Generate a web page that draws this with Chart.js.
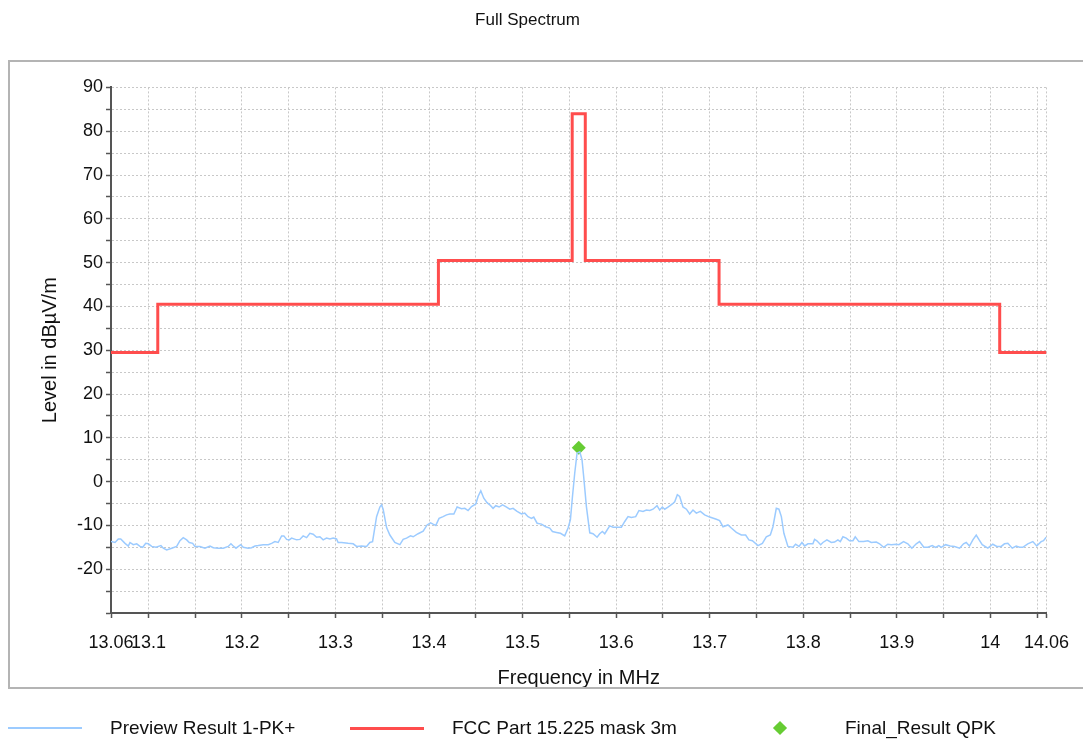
<!DOCTYPE html>
<html>
<head>
<meta charset="utf-8">
<title>Full Spectrum</title>
<script src="https://cdn.jsdelivr.net/npm/chart.js@4.4.1/dist/chart.umd.min.js"></script>
<style>
  body { margin: 0; background: #fff; }
  #wrap { position: relative; width: 1083px; height: 743px; overflow: hidden; }
  #myChart { position: absolute; left: 0; top: 0; }
  #legend { position: absolute; left: 0; top: 716px; width: 1083px; height: 24px;
            font: 19px "Liberation Sans", Arial, sans-serif; color: #111; }
  .item { position: absolute; top: 0; height: 24px; display: flex; align-items: center; white-space: nowrap; }
  .mark { width: 74px; height: 24px; display: flex; justify-content: center; align-items: center; margin-right: 28px; }
  .line { width: 74px; }
  .diamond { width: 10px; height: 10px; transform: rotate(45deg); }
</style>
</head>
<body>
<div id="wrap">
  <canvas id="myChart" width="1083" height="743"></canvas>
  <div id="legend"></div>
</div>
<script>
// Preview Result 1-PK+ trace (MHz / dBµV/m)
const pkFreq = [
  13.0600, 13.0643, 13.0678, 13.0704, 13.0750, 13.0785, 13.0803, 13.0838, 13.0875, 13.0910,
  13.0939, 13.0971, 13.0999, 13.1035, 13.1081, 13.1134, 13.1159, 13.1195, 13.1249, 13.1302,
  13.1337, 13.1372, 13.1409, 13.1437, 13.1473, 13.1497, 13.1551, 13.1604, 13.1658, 13.1693,
  13.1746, 13.1800, 13.1853, 13.1882, 13.1907, 13.1936, 13.1986, 13.2014, 13.2067, 13.2103,
  13.2139, 13.2174, 13.2227, 13.2281, 13.2317, 13.2352, 13.2387, 13.2424, 13.2448, 13.2477,
  13.2505, 13.2531, 13.2584, 13.2619, 13.2654, 13.2691, 13.2726, 13.2761, 13.2798, 13.2833,
  13.2868, 13.2904, 13.2940, 13.2975, 13.3011, 13.3028, 13.3065, 13.3135, 13.3189, 13.3225,
  13.3278, 13.3332, 13.3367, 13.3396, 13.3439, 13.3474, 13.3492, 13.3509, 13.3546, 13.3581,
  13.3634, 13.3688, 13.3723, 13.3759, 13.3802, 13.3830, 13.3883, 13.3937, 13.3979, 13.4016,
  13.4043, 13.4072, 13.4107, 13.4150, 13.4187, 13.4222, 13.4265, 13.4300, 13.4347, 13.4382,
  13.4417, 13.4454, 13.4500, 13.4524, 13.4553, 13.4585, 13.4620, 13.4649, 13.4684, 13.4713,
  13.4749, 13.4785, 13.4820, 13.4863, 13.4898, 13.4941, 13.4988, 13.5023, 13.5058, 13.5095,
  13.5119, 13.5155, 13.5202, 13.5247, 13.5290, 13.5319, 13.5362, 13.5405, 13.5450, 13.5486,
  13.5511, 13.5533, 13.5557, 13.5582, 13.5611, 13.5635, 13.5653, 13.5682, 13.5718, 13.5753,
  13.5796, 13.5824, 13.5853, 13.5878, 13.5931, 13.5967, 13.6009, 13.6056, 13.6092, 13.6127,
  13.6163, 13.6209, 13.6244, 13.6287, 13.6323, 13.6359, 13.6394, 13.6437, 13.6465, 13.6494,
  13.6519, 13.6554, 13.6601, 13.6626, 13.6654, 13.6679, 13.6714, 13.6751, 13.6786, 13.6821,
  13.6857, 13.6900, 13.6946, 13.7000, 13.7071, 13.7106, 13.7142, 13.7195, 13.7231, 13.7285,
  13.7338, 13.7384, 13.7419, 13.7456, 13.7516, 13.7563, 13.7605, 13.7648, 13.7676, 13.7712,
  13.7740, 13.7766, 13.7793, 13.7836, 13.7890, 13.7918, 13.7954, 13.7986, 13.8015, 13.8050,
  13.8103, 13.8121, 13.8146, 13.8186, 13.8210, 13.8253, 13.8300, 13.8335, 13.8370, 13.8396,
  13.8424, 13.8460, 13.8495, 13.8531, 13.8556, 13.8595, 13.8645, 13.8691, 13.8727, 13.8781,
  13.8816, 13.8859, 13.8904, 13.8941, 13.8994, 13.9022, 13.9072, 13.9118, 13.9161, 13.9208,
  13.9243, 13.9289, 13.9332, 13.9379, 13.9414, 13.9449, 13.9475, 13.9521, 13.9571, 13.9617,
  13.9671, 13.9713, 13.9742, 13.9777, 13.9813, 13.9849, 13.9877, 13.9913, 13.9973, 14.0026,
  14.0069, 14.0116, 14.0151, 14.0187, 14.0234, 14.0276, 14.0312, 14.0347, 14.0400, 14.0454,
  14.0496, 14.0543, 14.0568, 14.0597
];
const pkLevel = [
  -13.7, -13.9, -13.1, -13.1, -14.1, -14.7, -13.9, -14.4, -14.2, -14.8,
  -15.0, -14.1, -14.2, -14.8, -15.0, -14.6, -15.2, -15.6, -15.2, -14.8,
  -13.5, -12.8, -13.3, -13.9, -14.1, -14.8, -14.8, -15.2, -14.7, -15.1,
  -15.2, -15.2, -14.8, -14.2, -14.7, -15.2, -14.4, -15.0, -15.2, -15.1,
  -14.7, -14.6, -14.4, -14.4, -14.1, -13.7, -13.9, -12.4, -12.4, -13.2,
  -13.3, -12.9, -13.3, -13.2, -12.4, -12.8, -11.8, -12.0, -12.7, -12.6,
  -13.3, -12.9, -13.1, -12.9, -13.1, -13.9, -13.9, -14.1, -14.2, -14.8,
  -14.7, -14.8, -13.9, -13.7, -8.0, -5.8, -5.3, -6.3, -10.5, -12.2,
  -13.9, -14.4, -13.2, -12.9, -12.4, -12.6, -11.9, -11.3, -9.9, -9.4,
  -9.7, -10.0, -8.4, -8.0, -7.6, -7.4, -7.4, -5.8, -6.2, -6.1,
  -6.6, -5.7, -5.1, -3.4, -2.1, -3.8, -4.8, -5.3, -6.1, -5.5,
  -5.8, -5.3, -5.7, -6.3, -6.1, -6.8, -7.4, -7.2, -8.0, -8.4,
  -8.1, -9.5, -9.7, -10.3, -10.6, -11.4, -11.6, -11.8, -12.4, -10.6,
  -8.7, -3.4, 1.9, 6.5, 6.8, 5.0, 1.1, -5.7, -11.7, -11.9,
  -12.7, -11.9, -11.4, -11.9, -10.1, -10.4, -10.4, -10.4, -9.1, -8.0,
  -8.2, -8.0, -6.6, -6.8, -6.5, -6.6, -6.3, -5.5, -6.5, -5.8,
  -6.3, -5.8, -5.1, -4.6, -3.0, -3.4, -5.8, -6.3, -7.4, -6.5,
  -7.2, -6.8, -7.6, -8.1, -8.6, -8.9, -10.3, -9.9, -10.6, -11.6,
  -12.2, -12.2, -13.3, -13.5, -14.6, -14.1, -12.6, -12.2, -10.3, -6.1,
  -6.3, -8.0, -11.8, -14.8, -15.0, -14.3, -14.8, -13.9, -14.7, -14.2,
  -14.2, -13.2, -13.5, -14.4, -13.9, -13.3, -13.9, -13.8, -13.3, -13.7,
  -12.6, -12.9, -13.5, -13.5, -12.6, -13.7, -13.7, -13.5, -13.9, -13.8,
  -14.2, -15.0, -14.3, -14.4, -14.3, -14.4, -13.7, -14.2, -15.2, -14.2,
  -13.7, -15.0, -15.0, -14.6, -15.0, -14.6, -15.0, -14.4, -14.7, -14.8,
  -15.2, -14.2, -13.9, -14.7, -13.3, -12.2, -13.2, -14.4, -15.2, -14.3,
  -14.8, -14.8, -14.2, -14.1, -15.2, -14.7, -15.0, -15.0, -14.2, -13.7,
  -14.7, -13.7, -13.5, -12.7
];

// FCC Part 15.225 limit, each level holds until the next edge
const maskFreq = [13.06, 13.11, 13.41, 13.553, 13.567, 13.71, 14.01, 14.06];
const maskLevel = [29.5, 40.5, 50.5, 84.0, 50.5, 40.5, 29.5, 29.5];

// Final_Result QPK
const qpkFreq = [13.56];
const qpkLevel = [7.7];

// axis ticks
const xTickValues = [13.06, 13.1, 13.15, 13.2, 13.25, 13.3, 13.35, 13.4, 13.45, 13.5, 13.55,
  13.6, 13.65, 13.7, 13.75, 13.8, 13.85, 13.9, 13.95, 14, 14.05, 14.06];
const xTickLabels = ["13.06", "13.1", "13.2", "13.3", "13.4", "13.5", "13.6", "13.7", "13.8", "13.9", "14", "14.06"];
const yTickLabels = [90, 80, 70, 60, 50, 40, 30, 20, 10, 0, -10, -20];

const toPoints = (xs, ys) => xs.map((x, i) => ({x: x, y: ys[i]}));

Chart.defaults.font.family = "'Liberation Sans', Arial, sans-serif";
Chart.defaults.color = "#111";

const gridColor = "#c8c8c8";
const axisColor = "#555";

// grey frame round plot + axis titles
const framePlugin = {
  id: "frame",
  afterDraw(chart) {
    const c = chart.ctx;
    c.save();
    c.strokeStyle = "#b4b4b4";
    c.lineWidth = 2;
    c.strokeRect(9, 61, 1100, 627);
    c.restore();
  }
};

let myChart = document.querySelector("#myChart").getContext("2d");

let spectrum = new Chart(myChart, {
  type: "line",
  data: {
    datasets: [{
      label: "Preview Result 1-PK+",
      data: toPoints(pkFreq, pkLevel),
      borderColor: "#9ccbff",
      backgroundColor: "#9ccbff",
      borderWidth: 1.5,
      pointRadius: 0,
      tension: 0
    }, {
      label: "FCC Part 15.225 mask 3m",
      data: toPoints(maskFreq, maskLevel),
      borderColor: "#ff4d4d",
      backgroundColor: "#ff4d4d",
      borderWidth: 3,
      pointRadius: 0,
      stepped: "before"
    }, {
      label: "Final_Result QPK",
      data: toPoints(qpkFreq, qpkLevel),
      showLine: false,
      pointStyle: "rectRot",
      pointRadius: 7,
      borderWidth: 0,
      borderColor: "#66cc33",
      backgroundColor: "#66cc33"
    }]
  },
  options: {
    responsive: false,
    animation: false,
    layout: {
      padding: {left: 8, right: 36, top: 0, bottom: 45}
    },
    plugins: {
      legend: {display: false},
      tooltip: {enabled: false},
      title: {
        display: true,
        text: "Full Spectrum",
        color: "#111",
        font: {size: 17, weight: "normal"},
        padding: {top: 10, bottom: 57}
      }
    },
    scales: {
      x: {
        type: "linear",
        min: 13.06,
        max: 14.06,
        afterBuildTicks(scale) {
          scale.ticks = xTickValues.map(v => ({value: v}));
        },
        afterFit(scale) {
          scale.height = 85;
        },
        ticks: {
          autoSkip: false,
          maxRotation: 0,
          padding: 14,
          color: "#111",
          font: {size: 18},
          callback(value) {
            const s = String(Math.round(value * 100) / 100);
            return xTickLabels.includes(s) ? s : "";
          }
        },
        grid: {
          color: gridColor,
          tickColor: axisColor,
          tickLength: 5,
          tickWidth: 1.5
        },
        border: {color: axisColor, width: 2, dash: [2, 2]},
        title: {
          display: true,
          text: "Frequency in MHz",
          color: "#111",
          font: {size: 20},
          padding: {top: 0, bottom: 8}
        }
      },
      y: {
        min: -30,
        max: 90,
        afterFit(scale) {
          scale.width = 103;
        },
        ticks: {
          stepSize: 5,
          autoSkip: false,
          padding: 3,
          color: "#111",
          font: {size: 18},
          callback(value) {
            return yTickLabels.includes(value) ? String(value) : "";
          }
        },
        grid: {
          color: gridColor,
          tickColor: axisColor,
          tickLength: 5,
          tickWidth: 1.5
        },
        border: {color: axisColor, width: 2, dash: [2, 2]},
        title: {
          display: true,
          text: "Level in dBµV/m",
          color: "#111",
          font: {size: 20},
          padding: {top: 30, bottom: 0}
        }
      }
    }
  },
  plugins: [framePlugin]
});

// legend as html, built from the datasets
const legendLeft = [8, 350, 743];
const legendBox = document.querySelector("#legend");
spectrum.data.datasets.forEach((ds, i) => {
  const item = document.createElement("div");
  item.className = "item";
  item.style.left = legendLeft[i] + "px";
  const mark = document.createElement("div");
  mark.className = "mark";
  const sym = document.createElement("div");
  if (ds.showLine === false) {
    sym.className = "diamond";
  } else {
    sym.className = "line";
    sym.style.height = (ds.borderWidth) + "px";
  }
  sym.style.background = ds.borderColor;
  mark.appendChild(sym);
  const txt = document.createElement("span");
  txt.textContent = ds.label;
  item.appendChild(mark);
  item.appendChild(txt);
  legendBox.appendChild(item);
});
</script>
</body>
</html>
